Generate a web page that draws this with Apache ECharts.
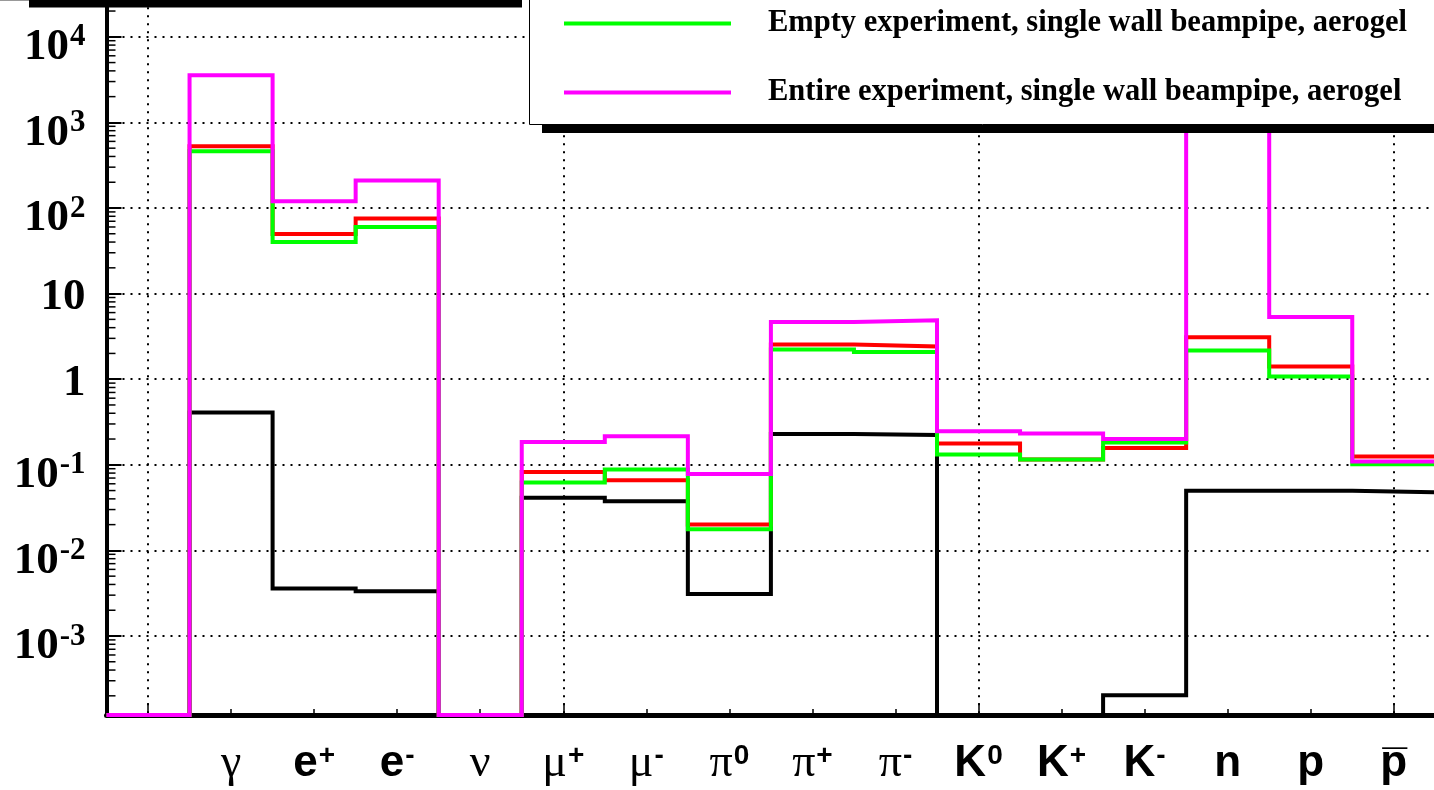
<!DOCTYPE html>
<html><head><meta charset="utf-8">
<script src="https://cdn.jsdelivr.net/npm/echarts@6/dist/echarts.min.js"></script>
<style>html,body{margin:0;padding:0;background:#fff}#c{width:1434px;height:790px}</style>
</head><body><div id="c"></div>
<script>
// ---- data ----
const particles = ['', 'γ', 'e^+', 'e^-', 'ν', 'μ^+', 'μ^-', 'π^0', 'π^+', 'π^-', 'K^0', 'K^+', 'K^-', 'n', 'p', 'p\u0305'];
const seriesBlack   = [0, 0.408, 0.00359, 0.00334, 0, 0.0411, 0.0376, 0.0031, 0.2296, 0.2236, 0, 0, 0.000203, 0.0496, 0.0496, 0.0479];
const seriesRed     = [0, 527, 49.8, 75.4, 0, 0.0826, 0.0661, 0.0201, 2.54, 2.41, 0.177, 0.115, 0.157, 3.09, 1.41, 0.125];
const seriesGreen   = [0, 461, 40.2, 60.1, 0, 0.0621, 0.0881, 0.0177, 2.22, 2.08, 0.132, 0.115, 0.182, 2.16, 1.075, 0.1016];
const seriesMagenta = [0, 3560, 120, 209, 0, 0.185, 0.216, 0.0783, 4.67, 4.89, 0.247, 0.232, 0.2, 20000, 5.34, 0.109];
const nameBlack = 'series A';
const nameRed = 'series B';
const legendGreen = 'Empty experiment, single wall beampipe, aerogel';
const legendMagenta = 'Entire experiment, single wall beampipe, aerogel';
const Y_MIN = 1.194e-4, Y_MAX = 1e5;

// ---- helpers ----
function stepData(vals) {
  const pts = vals.map((v, i) => [i - 0.5, Math.max(v, Y_MIN)]);
  pts.push([vals.length - 0.5, Math.max(vals[vals.length - 1], Y_MIN)]);
  return pts;
}
function histLine(name, vals, color) {
  return {
    name, type: 'line', step: 'end', data: stepData(vals),
    symbol: 'none', showSymbol: false,
    lineStyle: { color, width: 4, cap: 'butt', join: 'miter' },
    itemStyle: { color }, emphasis: { disabled: true }, silent: true, z: 2
  };
}
const minorTicks = [];
for (let d = -4; d <= 4; d++) for (let m = 2; m <= 9; m++) {
  const v = m * Math.pow(10, d);
  if (v > Y_MIN && v < Y_MAX) minorTicks.push([-0.5, v]);
}

const serif = 'Liberation Serif';
const sans = 'Liberation Sans';

const chart = echarts.init(document.getElementById('c'), null, { renderer: 'canvas' });
chart.setOption({
  animation: false,
  backgroundColor: '#fff',
  grid: { left: 106.5, right: -1.3, top: -48.8, bottom: 75, containLabel: false, outerBoundsMode: 'none' },
  xAxis: [{
    type: 'value', min: -0.5, max: 15.5, splitNumber: 16, position: 'bottom',
    axisLine: { show: true, onZero: false, lineStyle: { color: '#000', width: 5 } },
    axisTick: { show: true, inside: true, length: 6, lineStyle: { color: '#000', width: 1.5 } },
    splitLine: { show: false },
    axisLabel: {
      margin: 24, color: '#000',
      formatter: v => {
        const r = Math.round(v);
        if (Math.abs(v - r) > 1e-6) return '';
        const s = particles[r] || '';
        if (!s) return '';
        const parts = s.split('^');
        const greek = /[\u03b1-\u03c9]/.test(parts[0]);
        return '{' + (greek ? 'g' : 'l') + '|' + parts[0] + '}' + (parts[1] ? '{s|' + parts[1] + '}' : '');
      },
      rich: {
        l: { fontFamily: sans, fontWeight: 'bold', fontSize: 44, lineHeight: 50, color: '#000' },
        g: { fontFamily: serif, fontWeight: 'normal', fontSize: 46, lineHeight: 50, color: '#000' },
        s: { fontFamily: sans, fontWeight: 'bold', fontSize: 28, lineHeight: 28, verticalAlign: 'top', padding: [3, 0, 0, 1], color: '#000' }
      }
    }
  }, {
    type: 'value', min: -0.5, max: 15.5, splitNumber: 3, position: 'bottom',
    axisLine: { show: false, onZero: false },
    axisTick: { show: true, inside: true, length: 12, lineStyle: { color: '#000', width: 1.5 } },
    axisLabel: { show: false },
    splitLine: { show: true, lineStyle: { color: '#000', width: 2, type: [2, 6] } }
  }],
  yAxis: {
    type: 'log', logBase: 10, min: Y_MIN, max: Y_MAX,
    axisLine: { show: true, onZero: false, lineStyle: { color: '#000', width: 4 } },
    axisTick: { show: true, inside: true, length: 15, lineStyle: { color: '#000', width: 2 } },
    splitLine: { show: true, lineStyle: { color: '#000', width: 2, type: [2, 6] } },
    axisLabel: {
      margin: 21, color: '#000',
      formatter: v => {
        const e = Math.log10(v), r = Math.round(e);
        if (Math.abs(e - r) > 1e-6) return '';
        if (r === 0) return '{n|1}';
        if (r === 1) return '{n|10}';
        return '{b|10}{s|' + r + '}';
      },
      rich: {
        n: { fontFamily: serif, fontWeight: 'bold', fontSize: 45, lineHeight: 44, padding: [8, 0, 0, 0], color: '#000' },
        b: { fontFamily: serif, fontWeight: 'bold', fontSize: 45, lineHeight: 44, padding: [21, 0, 0, 0], color: '#000' },
        s: { fontFamily: serif, fontWeight: 'bold', fontSize: 31, lineHeight: 30, verticalAlign: 'top', padding: [7, 0, 0, 1], color: '#000' }
      }
    }
  },
  legend: {
    data: [
      { name: legendGreen, icon: 'rect', itemStyle: { color: '#00ff00' } },
      { name: legendMagenta, icon: 'rect', itemStyle: { color: '#ff00ff' } }
    ],
    orient: 'vertical', left: 564, top: 8, padding: 0,
    itemWidth: 167, itemHeight: 4, itemGap: 38,
    selectedMode: false, z: 200,
    textStyle: { fontFamily: serif, fontWeight: 'bold', fontSize: 30.5, lineHeight: 30, color: '#000', padding: [0, 0, 0, 32] }
  },
  graphic: [
    { type: 'rect', z: 100, shape: { x: 0, y: -1, width: 29, height: 2 }, style: { fill: '#999' } },
    { type: 'rect', z: 100, shape: { x: 29, y: -1, width: 493, height: 8.5 }, style: { fill: '#000' } },
    { type: 'rect', z: 100, shape: { x: 529.5, y: -10, width: 1000, height: 134.5 }, style: { fill: '#fff', stroke: '#000', lineWidth: 1 } },
    { type: 'rect', z: 100, shape: { x: 542, y: 125, width: 1000, height: 8 }, style: { fill: '#000' } }
  ],
  series: [
    histLine(nameBlack, seriesBlack, '#000000'),
    histLine(nameRed, seriesRed, '#ff0000'),
    histLine(legendGreen, seriesGreen, '#00ff00'),
    histLine(legendMagenta, seriesMagenta, '#ff00ff'),
    {
      type: 'custom', silent: true, clip: false, z: 5, data: minorTicks,
      renderItem: (params, api) => {
        const p = api.coord([api.value(0), api.value(1)]);
        return { type: 'line', shape: { x1: p[0], y1: p[1], x2: p[0] + 9, y2: p[1] }, style: { stroke: '#000', lineWidth: 1.5 } };
      }
    }
  ]
});
</script></body></html>
